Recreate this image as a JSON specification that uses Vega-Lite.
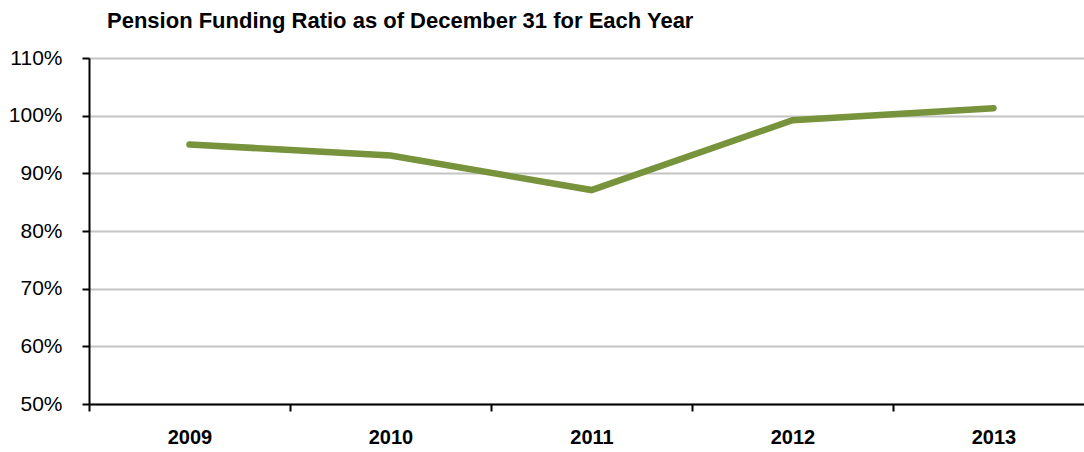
{
  "$schema": "https://vega.github.io/schema/vega-lite/v6.json",
  "width": 1005,
  "height": 346,
  "autosize": {"type": "none"},
  "padding": {"left": 89, "top": 58, "right": 0, "bottom": 48},
  "background": "white",
  "title": {
    "text": "Pension Funding Ratio as of December 31 for Each  Year",
    "anchor": "start",
    "frame": "group",
    "orient": "top",
    "dx": 18,
    "offset": 14,
    "font": "Liberation Sans Narrow, Arial Narrow, Liberation Sans, Arial, sans-serif",
    "fontSize": 22,
    "fontWeight": "bold",
    "color": "black"
  },
  "config": {
    "view": {"stroke": null},
    "axis": {"labelFont": "Liberation Sans Narrow, Arial Narrow, Liberation Sans, Arial, sans-serif", "labelColor": "black"}
  },
  "data": {
    "values": [
      {"year": "2009", "ratio": 0.950},
      {"year": "2010", "ratio": 0.931},
      {"year": "2011", "ratio": 0.871},
      {"year": "2012", "ratio": 0.992},
      {"year": "2013", "ratio": 1.013}
    ]
  },
  "mark": {"type": "line", "color": "#77933C", "strokeWidth": 6.5, "strokeCap": "round", "strokeJoin": "miter"},
  "encoding": {
    "x": {
      "field": "year",
      "type": "nominal",
      "bandPosition": 0.5,
      "scale": {"type": "band", "paddingInner": 0, "paddingOuter": 0},
      "axis": {
        "title": null,
        "labelAngle": 0,
        "tickBand": "extent",
        "domainColor": "black",
        "domainWidth": 2,
        "tickColor": "black",
        "tickWidth": 2,
        "tickSize": 7,
        "labelFontSize": 20,
        "labelFontWeight": "bold",
        "labelPadding": 16,
        "grid": false
      }
    },
    "y": {
      "field": "ratio",
      "type": "quantitative",
      "scale": {"domain": [0.5, 1.1], "nice": false, "zero": false},
      "axis": {
        "title": null,
        "values": [0.5, 0.6, 0.7, 0.8, 0.9, 1.0, 1.1],
        "format": ".0%",
        "grid": true,
        "gridColor": "#C4C4C4",
        "gridWidth": 2,
        "domainColor": "black",
        "domainWidth": 2,
        "tickColor": "black",
        "tickWidth": 2,
        "tickSize": 7,
        "labelFontSize": 21,
        "labelPadding": 20
      }
    }
  }
}
